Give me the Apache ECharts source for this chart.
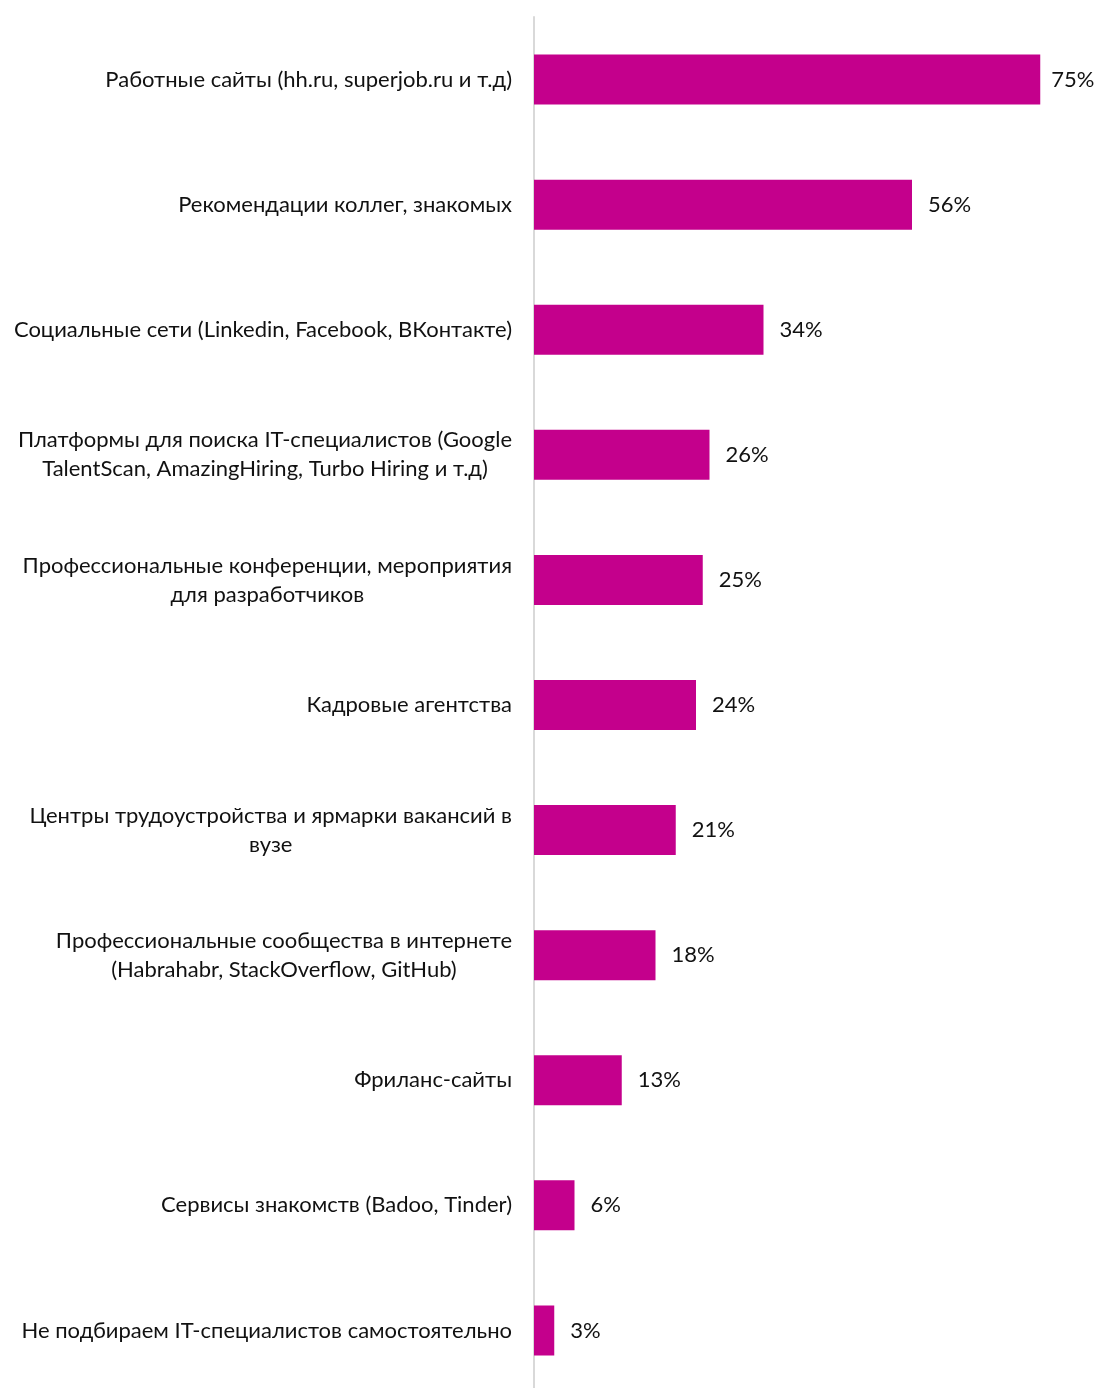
<!DOCTYPE html>
<html><head><meta charset="utf-8">
<script src="https://cdn.jsdelivr.net/npm/echarts@6/dist/echarts.min.js"></script>
<style>html,body{margin:0;padding:0;background:#fff;overflow:hidden}#c{width:1101px;height:1400px}</style>
</head><body><div id="c"></div>
<script>
const categories = [
  "Работные сайты (hh.ru, superjob.ru и т.д)",
  "Рекомендации коллег, знакомых",
  "Социальные сети (Linkedin, Facebook, ВКонтакте)",
  "Платформы для поиска IT-специалистов (Google\nTalentScan, AmazingHiring, Turbo Hiring и т.д)",
  "Профессиональные конференции, мероприятия\nдля разработчиков",
  "Кадровые агентства",
  "Центры трудоустройства и ярмарки вакансий в\nвузе",
  "Профессиональные сообщества в интернете\n(Habrahabr, StackOverflow, GitHub)",
  "Фриланс-сайты",
  "Сервисы знакомств (Badoo, Tinder)",
  "Не подбираем IT-специалистов самостоятельно"
];
const values = [75, 56, 34, 26, 25, 24, 21, 18, 13, 6, 3];

const FONT = 'Lato';
const chart = echarts.init(document.getElementById('c'), null, {renderer: 'canvas'});
chart.setOption({
  animation: false,
  grid: {left: 534, right: 0, top: 17, height: 1376, containLabel: false},
  xAxis: {type: 'value', min: 0, max: 84, show: false},
  yAxis: {
    type: 'category', data: categories, inverse: true,
    axisLine: {show: true, lineStyle: {color: '#d9d9d9', width: 2}},
    axisTick: {show: false},
    splitLine: {show: false},
    axisLabel: {
      margin: 22, fontFamily: FONT, fontSize: 22, color: '#111', lineHeight: 29,
      formatter: function (v) { return v.split('\n').map(s => '{c|' + s + '}').join('\n'); },
      rich: {c: {align: 'center', fontFamily: FONT, fontSize: 22, color: '#111', lineHeight: 29}}
    }
  },
  series: [{
    type: 'bar',
    data: values.map((v, i) => i === 0 ? {value: v, label: {distance: 11}} : v),
    barWidth: 50,
    itemStyle: {color: '#C4008C'},
    label: {show: true, position: 'right', distance: 16, formatter: '{c}%',
      fontFamily: FONT, fontSize: 22, color: '#111'}
  }]
});
</script></body></html>
